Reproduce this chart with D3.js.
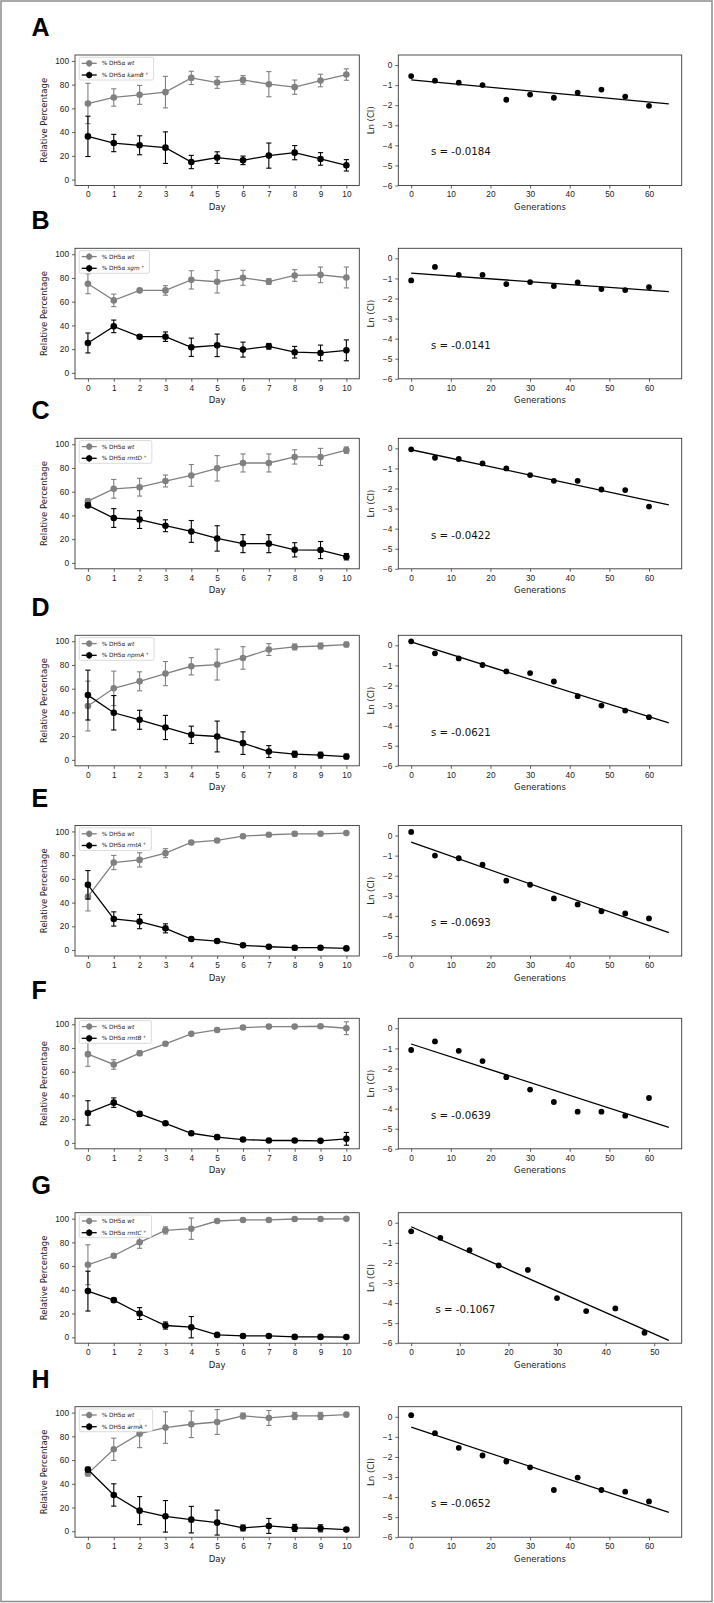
<!DOCTYPE html>
<html>
<head>
<meta charset="utf-8">
<script src="https://d3js.org/d3.v7.min.js"></script>
<style>
body{margin:0;background:#fff;}
svg{display:block;font-family:"DejaVu Sans",sans-serif;}
</style>
</head>
<body>
<div id="fig"></div>
<script>
// ---- values ----
const days = [0,1,2,3,4,5,6,7,8,9,10];
const generations = [0,6,12,18,24,30,36,42,48,54,60];
const panelLetters = ['A','B','C','D','E','F','G','H'];
const genes = ['kamB','sgm','rmtD','npmA','rmtA','rmtB','rmtC','armA'];

// % of each strain per day (mean) and error bar half-length
const kamB_wt  = [64.1,69.2,71.4,73.7,85.7,81.8,84.0,80.4,77.9,83.5,88.5];
const kamB_mut = [36.4,30.8,28.9,26.9,14.8,18.5,16.2,20.2,22.7,17.4,12.0];
const kamB_sd  = [17,7.3,8,13.3,5.6,4.9,3.6,10.6,6,5.3,4.8];

const sgm_wt  = [75.1,61.1,69.5,69.5,78.4,76.8,80.1,77.0,82.1,82.6,80.4];
const sgm_mut = [25.2,39.2,30.5,30.5,21.6,23.2,19.6,22.4,17.4,16.8,19.0];
const sgm_sd  = [8.4,5.3,1.5,4,7.7,9.5,6.3,2.4,4.9,6.6,8.8];

const rmtD_wt  = [52,62.4,63.8,69,73.7,79.7,84.2,84.2,89.3,89.3,95];
const rmtD_mut = [48.5,37.8,36.5,31.3,26.5,20.6,16.2,16.2,11,10.8,5.2];
const rmtD_sd  = [2,7.9,7.5,5,9.2,10.7,7.6,7.6,6,7.2,2.7];

const npmA_wt  = [45.4,60.3,66.2,72.7,78.9,80.3,85.9,93,95.2,96,97.2];
const npmA_mut = [54.6,39.7,33.8,27.3,21.1,19.7,14.1,7,4.8,4,2.8];
const npmA_sd  = [21,14.5,8,10.2,7.3,13,9.5,5,2.5,2.5,2];

const rmtA_wt  = [45,73.8,76,81.7,90.7,92.4,96,97.2,98,98,98.6];
const rmtA_mut = [55,26.2,24,18.3,9.3,7.6,4,2.8,2,2,1.4];
const rmtA_sd  = [12,6,6,3.8,1.3,1.3,1,1,1.8,1,1];

const rmtB_wt  = [74.8,66.1,75.6,83.5,91.9,95.2,97.2,98,98,98.3,96.6];
const rmtB_mut = [25.2,33.9,24.4,16.5,8.1,4.8,2.8,2,2,1.7,3.4];
const rmtB_sd  = [10.3,4,2,1.3,1.2,1.5,1.2,0.8,0.8,1,5.4];

const rmtC_wt  = [61.1,68.7,80,90.1,91.5,98,98.9,98.9,99.7,99.7,99.8];
const rmtC_mut = [38.9,31.3,20,9.9,8.5,2,1.1,1.1,0.3,0.3,0.2];
const rmtC_sd  = [16.8,1.5,5,3,9,1,0.8,0.8,0.5,0.5,0.5];

const armA_wt  = [48.6,69.1,82.3,87.4,90.2,92.1,97.2,95.5,97.2,97.2,98.3];
const armA_mut = [52,30.6,17.4,12.6,9.8,7.3,2.8,4.5,2.8,2.5,1.4];
const armA_sd  = [2,9.4,11.8,13.3,11.2,10.5,2.5,6.3,3,3,1.5];

// Ln (CI) per generation point
const kamB_lnCI = [-0.55,-0.78,-0.88,-1.0,-1.73,-1.47,-1.63,-1.37,-1.22,-1.57,-2.03];
const sgm_lnCI  = [-1.1,-0.43,-0.82,-0.82,-1.28,-1.18,-1.38,-1.2,-1.53,-1.58,-1.43];
const rmtD_lnCI = [-0.05,-0.47,-0.53,-0.75,-1.0,-1.33,-1.62,-1.62,-2.05,-2.08,-2.9];
const npmA_lnCI = [0.2,-0.4,-0.65,-0.98,-1.3,-1.38,-1.8,-2.53,-3.0,-3.25,-3.58];
const rmtA_lnCI = [0.18,-1.0,-1.13,-1.45,-2.25,-2.45,-3.13,-3.43,-3.77,-3.88,-4.13];
const rmtB_lnCI = [-1.08,-0.65,-1.12,-1.63,-2.43,-3.05,-3.67,-4.15,-4.15,-4.35,-3.47];
const rmtC_lnCI = [-0.43,-0.75,-1.37,-2.13,-2.35,-3.75,-4.4,-4.27,-5.48];
const armA_lnCI = [0.08,-0.82,-1.55,-1.93,-2.23,-2.52,-3.65,-3.03,-3.65,-3.73,-4.22];

// fitted lines
const slopes     = [-0.0184,-0.0141,-0.0422,-0.0621,-0.0693,-0.0639,-0.1067,-0.0652];
const intercepts = [-0.74,-0.74,-0.07,0.17,-0.33,-0.78,-0.2,-0.52];
const fitEnd     = [65,65,65,65,65,65,53,65];

const leftTicksY  = [0,20,40,60,80,100];
const rightTicksY = [-6,-5,-4,-3,-2,-1,0];

const wtPct  = [kamB_wt,sgm_wt,rmtD_wt,npmA_wt,rmtA_wt,rmtB_wt,rmtC_wt,armA_wt];
const mutPct = [kamB_mut,sgm_mut,rmtD_mut,npmA_mut,rmtA_mut,rmtB_mut,rmtC_mut,armA_mut];
const errPct = [kamB_sd,sgm_sd,rmtD_sd,npmA_sd,rmtA_sd,rmtB_sd,rmtC_sd,armA_sd];
const lnCI   = [kamB_lnCI,sgm_lnCI,rmtD_lnCI,npmA_lnCI,rmtA_lnCI,rmtB_lnCI,rmtC_lnCI,armA_lnCI];

// ---- layout ----
const W = 714, H = 1603;
const rowTop = [55, 248.3, 438.3, 635.3, 825.5, 1018.3, 1212.7, 1406.7];
const boxH = 130.5;
const leftX = 75, leftW = 284.3;
const rightX = 398.3, rightW = 283.4;
const grey = '#808080';
const axisCol = '#3a3a3a';

const svg = d3.select('#fig').append('svg')
  .attr('width', W).attr('height', H);

svg.append('rect').attr('width', W).attr('height', H).attr('fill', '#fff');
svg.append('rect')
  .attr('x', 1).attr('y', 1).attr('width', 711).attr('height', 1600.5)
  .attr('fill', 'none').attr('stroke', '#8c8c8c').attr('stroke-width', 1.5);

function styleAxis(g){
  g.select('.domain').remove();
  g.selectAll('.tick line').attr('stroke', axisCol).attr('stroke-width', 0.8);
  g.selectAll('.tick text').attr('fill', '#222').style('font-size', '8.3px');
}

function frame(g, x, y, w, h){
  g.append('rect').attr('x', x).attr('y', y).attr('width', w).attr('height', h)
    .attr('fill', 'none').attr('stroke', axisCol).attr('stroke-width', 0.9);
}

function errorSeries(g, x, y, vals, errs, col){
  const pts = vals.map((v,i)=>({d: days[i], v, e: errs[i]}));
  const bars = g.append('g');
  pts.forEach(p=>{
    const cx = x(p.d);
    bars.append('line').attr('x1', cx).attr('x2', cx)
      .attr('y1', y(p.v - p.e)).attr('y2', y(p.v + p.e))
      .attr('stroke', col).attr('stroke-width', 1.1);
    [p.v - p.e, p.v + p.e].forEach(yy=>{
      bars.append('line').attr('x1', cx-2.6).attr('x2', cx+2.6)
        .attr('y1', y(yy)).attr('y2', y(yy))
        .attr('stroke', col).attr('stroke-width', 1.1);
    });
  });
  g.append('path').datum(pts)
    .attr('d', d3.line().x(p=>x(p.d)).y(p=>y(p.v)))
    .attr('fill', 'none').attr('stroke', col).attr('stroke-width', 1.3);
  g.selectAll(null).data(pts).enter().append('circle')
    .attr('cx', p=>x(p.d)).attr('cy', p=>y(p.v)).attr('r', 3.3)
    .attr('fill', col);
}

function drawLeft(i){
  const top = rowTop[i];
  const g = svg.append('g');
  const x = d3.scaleLinear().domain([-0.5, 10.5]).range([leftX, leftX + leftW]);
  const y = d3.scaleLinear().domain([-5, 105]).range([top + boxH, top]);

  g.append('g').attr('transform', `translate(0,${top + boxH})`)
    .call(d3.axisBottom(x).tickValues(days).tickSize(3).tickPadding(3))
    .call(styleAxis);
  g.append('g').attr('transform', `translate(${leftX},0)`)
    .call(d3.axisLeft(y).tickValues(leftTicksY).tickSize(3).tickPadding(3))
    .call(styleAxis);

  errorSeries(g, x, y, wtPct[i], errPct[i], grey);
  errorSeries(g, x, y, mutPct[i], errPct[i], '#000');
  frame(g, leftX, top, leftW, boxH);

  g.append('text').attr('x', leftX + leftW/2).attr('y', top + boxH + 24.5)
    .attr('text-anchor', 'middle').style('font-size', '8.5px').attr('fill', '#222')
    .text('Day');
  g.append('text')
    .attr('transform', `translate(46.5,${top + boxH/2}) rotate(-90)`)
    .attr('text-anchor', 'middle').style('font-size', '8.5px').attr('fill', '#222')
    .text('Relative Percentage');

  // legend
  const lg = g.append('g').attr('transform', `translate(${leftX + 4.3},${top + 2.3})`);
  const box = lg.append('rect').attr('height', 22.7).attr('rx', 1.5)
    .attr('fill', '#fff').attr('fill-opacity', 0.85)
    .attr('stroke', '#cccccc').attr('stroke-width', 0.7);
  const entries = [{col: grey, gene: 'wt', sup: false}, {col: '#000', gene: genes[i], sup: true}];
  let maxW = 0;
  entries.forEach((e, k)=>{
    const cy = 6 + k*11.7;
    lg.append('line').attr('x1', 2.4).attr('x2', 17.4).attr('y1', cy).attr('y2', cy)
      .attr('stroke', e.col).attr('stroke-width', 1.3);
    lg.append('line').attr('x1', 9.9).attr('x2', 9.9).attr('y1', cy-3.5).attr('y2', cy+3.5)
      .attr('stroke', e.col).attr('stroke-width', 1);
    lg.append('circle').attr('cx', 9.9).attr('cy', cy).attr('r', 3.1).attr('fill', e.col);
    const t = lg.append('text').attr('x', 22.4).attr('y', cy + 2)
      .style('font-size', '5.8px').attr('fill', '#222');
    t.append('tspan').text('% DH5α ');
    t.append('tspan').style('font-style', 'italic').text(e.gene);
    if (e.sup) t.append('tspan').attr('dy', -2).style('font-size', '4.2px').text(' +');
    maxW = Math.max(maxW, t.node().getComputedTextLength());
  });
  box.attr('width', 22.4 + maxW + 5);

  // panel letter
  svg.append('text').attr('x', 31.5).attr('y', top - 19)
    .style('font-family', '"Liberation Sans", Arial, sans-serif')
    .style('font-weight', 'bold').style('font-size', '25px').attr('fill', '#000')
    .text(panelLetters[i]);
}

function drawRight(i){
  const top = rowTop[i];
  const g = svg.append('g');
  const xmax = fitEnd[i];
  const x = d3.scaleLinear().domain([-0.05*xmax, 1.05*xmax]).range([rightX, rightX + rightW]);
  const y = d3.scaleLinear().domain([-6, 0.5]).range([top + boxH, top]);

  g.append('g').attr('transform', `translate(0,${top + boxH})`)
    .call(d3.axisBottom(x).tickValues(d3.range(0, xmax, 10)).tickFormat(d3.format('d'))
      .tickSize(3).tickPadding(3))
    .call(styleAxis);
  g.append('g').attr('transform', `translate(${rightX},0)`)
    .call(d3.axisLeft(y).tickValues(rightTicksY).tickFormat(d3.format('d'))
      .tickSize(3).tickPadding(3))
    .call(styleAxis);

  const pts = lnCI[i].map((v,k)=>({gen: generations[k], v}));
  g.selectAll(null).data(pts).enter().append('circle')
    .attr('cx', p=>x(p.gen)).attr('cy', p=>y(p.v)).attr('r', 2.9).attr('fill', '#000');

  const fit = [0, xmax].map(gx=>({gen: gx, v: intercepts[i] + slopes[i]*gx}));
  g.append('path').datum(fit)
    .attr('d', d3.line().x(p=>x(p.gen)).y(p=>y(p.v)))
    .attr('stroke', '#000').attr('stroke-width', 1.3).attr('fill', 'none');

  g.append('text').attr('x', x(5)).attr('y', y(-4.5))
    .style('font-size', '10.2px').attr('fill', '#111')
    .text('s = ' + slopes[i].toFixed(4));

  frame(g, rightX, top, rightW, boxH);

  g.append('text').attr('x', rightX + rightW/2).attr('y', top + boxH + 24.5)
    .attr('text-anchor', 'middle').style('font-size', '8.5px').attr('fill', '#222')
    .text('Generations');
  g.append('text')
    .attr('transform', `translate(374,${top + boxH/2}) rotate(-90)`)
    .attr('text-anchor', 'middle').style('font-size', '8.5px').attr('fill', '#222')
    .text('Ln (CI)');
}

panelLetters.forEach((_, i)=>{ drawLeft(i); drawRight(i); });
</script>
</body>
</html>
